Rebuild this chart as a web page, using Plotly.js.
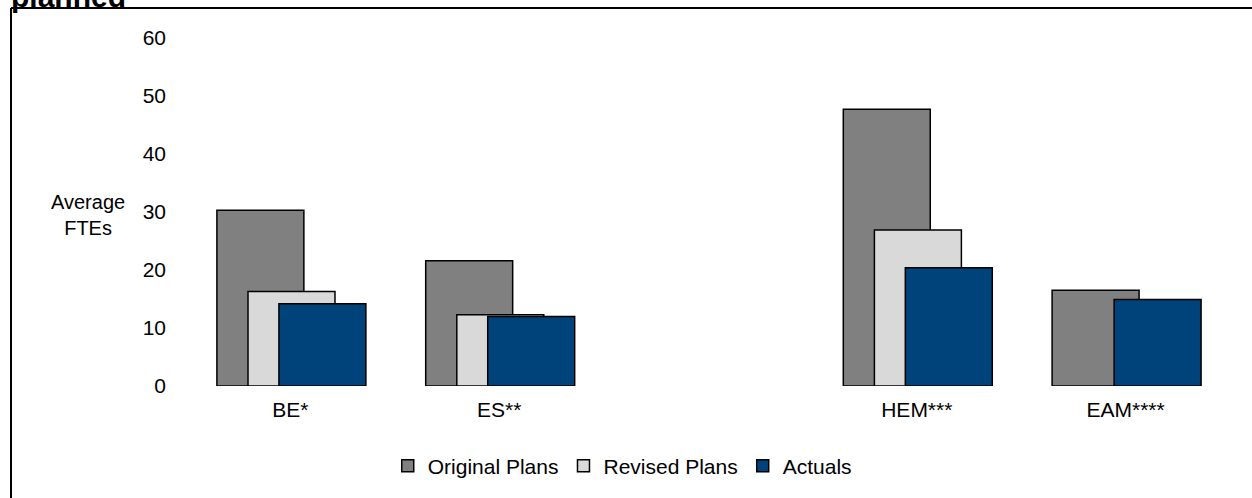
<!DOCTYPE html>
<html>
<head>
<meta charset="utf-8">
<script src="https://cdn.plot.ly/plotly-3.0.1.min.js"></script>
<style>
html,body{margin:0;padding:0;background:#fff;}
#chart{width:1252px;height:498px;}
</style>
</head>
<body>
<div id="chart"></div>
<script>
// Data
const categories = ["BE*", "ES**", " ", "HEM***", "EAM****"];
const originalPlans = [30.3, 21.6, null, 47.7, 16.5];
const revisedPlans = [16.3, 12.3, null, 26.9, null];
const actuals = [14.2, 12.0, null, 20.4, 14.9];
const seriesNames = ["Original Plans", "Revised Plans", "Actuals"];
const yTicks = [0, 10, 20, 30, 40, 50, 60];

const FONT = '"Liberation Sans", Arial, sans-serif';
const W = 1252, H = 498;
const M = {l: 186, r: 22, t: 38, b: 111.5};
const plotW = W - M.l - M.r, plotH = H - M.t - M.b;
const px2x = p => (p - M.l) / plotW;
const py2y = p => (H - M.b - p) / plotH;

const barW = 0.4165;
const line = {color: '#000', width: 1.5};
const traces = [
  {type: 'bar', name: seriesNames[0], x: categories, y: originalPlans,
   width: barW, offset: -0.352, marker: {color: '#808080', line: line}},
  {type: 'bar', name: seriesNames[1], x: categories, y: revisedPlans,
   width: barW, offset: -0.203, marker: {color: '#D9D9D9', line: line}},
  {type: 'bar', name: seriesNames[2], x: categories, y: actuals,
   width: barW, offset: -0.055, marker: {color: '#00437A', line: line}}
];

const layout = {
  width: W, height: H,
  margin: M,
  paper_bgcolor: '#fff', plot_bgcolor: '#fff',
  font: {family: FONT, size: 21, color: '#000'},
  barmode: 'overlay',
  showlegend: true,
  legend: {
    orientation: 'h', xref: 'container', yref: 'container',
    x: 0.497, xanchor: 'center', y: 1 - 466 / H, yanchor: 'middle',
    font: {family: FONT, size: 21, color: '#000'},
    itemwidth: 30, tracegroupgap: 0
  },
  xaxis: {
    type: 'category', categoryorder: 'array', categoryarray: categories,
    range: [-0.5, 4.5], showgrid: false, zeroline: false, showline: false,
    ticks: '', ticklabelstandoff: 9,
    tickfont: {family: FONT, size: 21, color: '#000'}
  },
  yaxis: {
    range: [0, 60], tickvals: yTicks, ticktext: yTicks.map(String),
    showgrid: false, zeroline: false, showline: false, ticks: '',
    ticklabelstandoff: 19,
    tickfont: {family: FONT, size: 21, color: '#000'}
  },
  shapes: [
    {type: 'line', xref: 'paper', yref: 'paper',
     x0: px2x(11), x1: px2x(11), y0: py2y(8), y1: py2y(520),
     line: {color: '#000', width: 2}},
    {type: 'line', xref: 'paper', yref: 'paper',
     x0: px2x(11), x1: px2x(1270), y0: py2y(8), y1: py2y(8),
     line: {color: '#000', width: 2}}
  ],
  annotations: [
    {text: 'Average<br>FTEs', xref: 'paper', yref: 'paper',
     x: px2x(88), y: py2y(215), xanchor: 'center', yanchor: 'middle',
     showarrow: false, align: 'center',
     font: {family: FONT, size: 20, color: '#000'}},
    {text: '<b>planned</b>', xref: 'paper', yref: 'paper',
     x: px2x(9), y: py2y(15), xanchor: 'left', yanchor: 'bottom',
     showarrow: false, align: 'left',
     font: {family: FONT, size: 30, color: '#000'}}
  ]
};

Plotly.newPlot('chart', traces, layout, {displayModeBar: false, staticPlot: true});
</script>
</body>
</html>
